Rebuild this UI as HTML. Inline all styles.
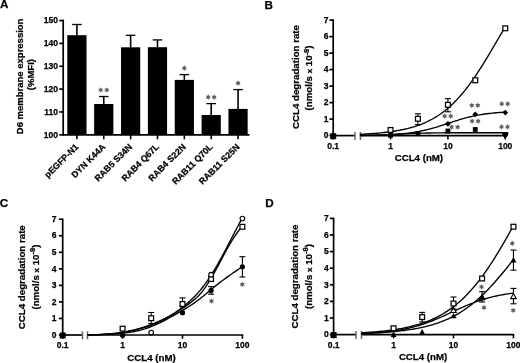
<!DOCTYPE html>
<html><head><meta charset="utf-8"><style>
html,body{margin:0;padding:0;background:#fff;width:520px;height:363px;overflow:hidden}
svg{display:block;font-family:"Liberation Sans", sans-serif;will-change:transform}
text{stroke:#000;stroke-width:0.25px}
</style></head><body>
<svg width="520" height="363" viewBox="0 0 520 363">
<rect width="520" height="363" fill="#fff"/>
<text x="0" y="8.3" font-size="11.7" text-anchor="start" font-weight="bold" fill="#000" >A</text>
<line x1="63.2" y1="19.75" x2="63.2" y2="135.6" stroke="#000" stroke-width="1.7"/>
<line x1="62.4" y1="134.8" x2="249.5" y2="134.8" stroke="#000" stroke-width="1.7"/>
<line x1="59.3" y1="134.8" x2="63.2" y2="134.8" stroke="#000" stroke-width="1.7"/>
<text x="58" y="137.6" font-size="8.5" text-anchor="end" font-weight="bold" fill="#000" >100</text>
<line x1="59.3" y1="111.95" x2="63.2" y2="111.95" stroke="#000" stroke-width="1.7"/>
<text x="58" y="114.75" font-size="8.5" text-anchor="end" font-weight="bold" fill="#000" >110</text>
<line x1="59.3" y1="89.1" x2="63.2" y2="89.1" stroke="#000" stroke-width="1.7"/>
<text x="58" y="91.9" font-size="8.5" text-anchor="end" font-weight="bold" fill="#000" >120</text>
<line x1="59.3" y1="66.25" x2="63.2" y2="66.25" stroke="#000" stroke-width="1.7"/>
<text x="58" y="69.05" font-size="8.5" text-anchor="end" font-weight="bold" fill="#000" >130</text>
<line x1="59.3" y1="43.4" x2="63.2" y2="43.4" stroke="#000" stroke-width="1.7"/>
<text x="58" y="46.2" font-size="8.5" text-anchor="end" font-weight="bold" fill="#000" >140</text>
<line x1="59.3" y1="20.55" x2="63.2" y2="20.55" stroke="#000" stroke-width="1.7"/>
<text x="58" y="23.35" font-size="8.5" text-anchor="end" font-weight="bold" fill="#000" >150</text>
<rect x="67.3" y="35.2" width="19.2" height="99.6" fill="#000"/>
<line x1="76.9" y1="24.5" x2="76.9" y2="35.2" stroke="#000" stroke-width="1.6"/>
<line x1="72.1" y1="24.5" x2="81.7" y2="24.5" stroke="#000" stroke-width="1.3"/>
<line x1="76.9" y1="134.8" x2="76.9" y2="139.3" stroke="#000" stroke-width="1.6"/>
<text x="0" y="0" font-size="8.9" text-anchor="end" font-weight="bold" transform="translate(79.1 147.4) rotate(-45)">pEGFP-N1</text>
<rect x="94.16" y="104" width="19.2" height="30.8" fill="#000"/>
<line x1="103.76" y1="96.5" x2="103.76" y2="104" stroke="#000" stroke-width="1.6"/>
<line x1="98.96" y1="96.5" x2="108.56" y2="96.5" stroke="#000" stroke-width="1.3"/>
<line x1="103.76" y1="134.8" x2="103.76" y2="139.3" stroke="#000" stroke-width="1.6"/>
<text x="0" y="0" font-size="8.9" text-anchor="end" font-weight="bold" transform="translate(105.96 147.4) rotate(-45)">DYN K44A</text>
<polygon points="100.76,87.15 101.54,88.64 103.23,88.58 102.33,90 103.23,91.42 101.54,91.36 100.76,92.85 99.98,91.36 98.29,91.42 99.19,90 98.29,88.58 99.98,88.64" fill="#636363"/>
<polygon points="106.76,87.15 107.54,88.64 109.23,88.58 108.33,90 109.23,91.42 107.54,91.36 106.76,92.85 105.98,91.36 104.29,91.42 105.19,90 104.29,88.58 105.98,88.64" fill="#636363"/>
<rect x="121.02" y="47.3" width="19.2" height="87.5" fill="#000"/>
<line x1="130.62" y1="35.3" x2="130.62" y2="47.3" stroke="#000" stroke-width="1.6"/>
<line x1="125.82" y1="35.3" x2="135.42" y2="35.3" stroke="#000" stroke-width="1.3"/>
<line x1="130.62" y1="134.8" x2="130.62" y2="139.3" stroke="#000" stroke-width="1.6"/>
<text x="0" y="0" font-size="8.9" text-anchor="end" font-weight="bold" transform="translate(132.82 147.4) rotate(-45)">RAB5 S34N</text>
<rect x="147.88" y="47.2" width="19.2" height="87.6" fill="#000"/>
<line x1="157.48" y1="39.9" x2="157.48" y2="47.2" stroke="#000" stroke-width="1.6"/>
<line x1="152.68" y1="39.9" x2="162.28" y2="39.9" stroke="#000" stroke-width="1.3"/>
<line x1="157.48" y1="134.8" x2="157.48" y2="139.3" stroke="#000" stroke-width="1.6"/>
<text x="0" y="0" font-size="8.9" text-anchor="end" font-weight="bold" transform="translate(159.68 147.4) rotate(-45)">RAB4 Q67L</text>
<rect x="174.74" y="79.9" width="19.2" height="54.9" fill="#000"/>
<line x1="184.34" y1="74.6" x2="184.34" y2="79.9" stroke="#000" stroke-width="1.6"/>
<line x1="179.54" y1="74.6" x2="189.14" y2="74.6" stroke="#000" stroke-width="1.3"/>
<line x1="184.34" y1="134.8" x2="184.34" y2="139.3" stroke="#000" stroke-width="1.6"/>
<text x="0" y="0" font-size="8.9" text-anchor="end" font-weight="bold" transform="translate(186.54 147.4) rotate(-45)">RAB4 S22N</text>
<polygon points="184.34,65.25 185.12,66.74 186.81,66.67 185.91,68.1 186.81,69.52 185.12,69.46 184.34,70.95 183.56,69.46 181.87,69.52 182.77,68.1 181.87,66.67 183.56,66.74" fill="#636363"/>
<rect x="201.6" y="115" width="19.2" height="19.8" fill="#000"/>
<line x1="211.2" y1="103.6" x2="211.2" y2="115" stroke="#000" stroke-width="1.6"/>
<line x1="206.4" y1="103.6" x2="216" y2="103.6" stroke="#000" stroke-width="1.3"/>
<line x1="211.2" y1="134.8" x2="211.2" y2="139.3" stroke="#000" stroke-width="1.6"/>
<text x="0" y="0" font-size="8.9" text-anchor="end" font-weight="bold" transform="translate(213.4 147.4) rotate(-45)">RAB11 Q70L</text>
<polygon points="208.2,94.25 208.98,95.74 210.67,95.67 209.77,97.1 210.67,98.52 208.98,98.46 208.2,99.95 207.42,98.46 205.73,98.52 206.63,97.1 205.73,95.67 207.42,95.74" fill="#636363"/>
<polygon points="214.2,94.25 214.98,95.74 216.67,95.67 215.77,97.1 216.67,98.52 214.98,98.46 214.2,99.95 213.42,98.46 211.73,98.52 212.63,97.1 211.73,95.67 213.42,95.74" fill="#636363"/>
<rect x="228.46" y="108.9" width="19.2" height="25.9" fill="#000"/>
<line x1="238.06" y1="89.6" x2="238.06" y2="108.9" stroke="#000" stroke-width="1.6"/>
<line x1="233.26" y1="89.6" x2="242.86" y2="89.6" stroke="#000" stroke-width="1.3"/>
<line x1="238.06" y1="134.8" x2="238.06" y2="139.3" stroke="#000" stroke-width="1.6"/>
<text x="0" y="0" font-size="8.9" text-anchor="end" font-weight="bold" transform="translate(240.26 147.4) rotate(-45)">RAB11 S25N</text>
<polygon points="238.06,80.25 238.84,81.74 240.53,81.67 239.63,83.1 240.53,84.52 238.84,84.46 238.06,85.95 237.28,84.46 235.59,84.52 236.49,83.1 235.59,81.67 237.28,81.74" fill="#636363"/>
<text x="0" y="0" font-size="9.5" font-weight="bold" text-anchor="middle" transform="translate(23.2 76.4) rotate(-90)">D6 membrane expression</text>
<text x="0" y="0" font-size="9.5" font-weight="bold" text-anchor="middle" transform="translate(34.4 74.6) rotate(-90)">(%MFI)</text>
<text x="264.4" y="8.6" font-size="11.7" text-anchor="start" font-weight="bold" fill="#000" >B</text>
<line x1="333.2" y1="19.3" x2="333.2" y2="136.4" stroke="#000" stroke-width="1.7"/>
<line x1="329.4" y1="135.6" x2="333.2" y2="135.6" stroke="#000" stroke-width="1.7"/>
<text x="328.6" y="138.3" font-size="8.5" text-anchor="end" font-weight="bold" fill="#000" >0</text>
<line x1="329.4" y1="119.1" x2="333.2" y2="119.1" stroke="#000" stroke-width="1.7"/>
<text x="328.6" y="121.8" font-size="8.5" text-anchor="end" font-weight="bold" fill="#000" >1</text>
<line x1="329.4" y1="102.6" x2="333.2" y2="102.6" stroke="#000" stroke-width="1.7"/>
<text x="328.6" y="105.3" font-size="8.5" text-anchor="end" font-weight="bold" fill="#000" >2</text>
<line x1="329.4" y1="86.1" x2="333.2" y2="86.1" stroke="#000" stroke-width="1.7"/>
<text x="328.6" y="88.8" font-size="8.5" text-anchor="end" font-weight="bold" fill="#000" >3</text>
<line x1="329.4" y1="69.6" x2="333.2" y2="69.6" stroke="#000" stroke-width="1.7"/>
<text x="328.6" y="72.3" font-size="8.5" text-anchor="end" font-weight="bold" fill="#000" >4</text>
<line x1="329.4" y1="53.1" x2="333.2" y2="53.1" stroke="#000" stroke-width="1.7"/>
<text x="328.6" y="55.8" font-size="8.5" text-anchor="end" font-weight="bold" fill="#000" >5</text>
<line x1="329.4" y1="36.6" x2="333.2" y2="36.6" stroke="#000" stroke-width="1.7"/>
<text x="328.6" y="39.3" font-size="8.5" text-anchor="end" font-weight="bold" fill="#000" >6</text>
<line x1="329.4" y1="20.1" x2="333.2" y2="20.1" stroke="#000" stroke-width="1.7"/>
<text x="328.6" y="22.8" font-size="8.5" text-anchor="end" font-weight="bold" fill="#000" >7</text>
<line x1="332.4" y1="135.6" x2="355" y2="135.6" stroke="#000" stroke-width="1.7"/>
<line x1="360.4" y1="135.6" x2="506.05" y2="135.6" stroke="#000" stroke-width="1.7"/>
<line x1="355" y1="132" x2="355" y2="140" stroke="#666" stroke-width="1.5"/>
<line x1="360.4" y1="132" x2="360.4" y2="140" stroke="#666" stroke-width="1.5"/>
<line x1="333.2" y1="135.6" x2="333.2" y2="139.4" stroke="#000" stroke-width="1.6"/>
<text x="333.2" y="148.8" font-size="8.5" text-anchor="middle" font-weight="bold" fill="#000" >0.1</text>
<line x1="390.55" y1="135.6" x2="390.55" y2="139.4" stroke="#000" stroke-width="1.6"/>
<text x="390.55" y="148.8" font-size="8.5" text-anchor="middle" font-weight="bold" fill="#000" >1</text>
<line x1="447.9" y1="135.6" x2="447.9" y2="139.4" stroke="#000" stroke-width="1.6"/>
<text x="447.9" y="148.8" font-size="8.5" text-anchor="middle" font-weight="bold" fill="#000" >10</text>
<line x1="505.25" y1="135.6" x2="505.25" y2="139.4" stroke="#000" stroke-width="1.6"/>
<text x="505.25" y="148.8" font-size="8.5" text-anchor="middle" font-weight="bold" fill="#000" >100</text>
<text x="418.9" y="160.9" font-size="9.7" text-anchor="middle" font-weight="bold" fill="#000" >CCL4 (nM)</text>
<text x="0" y="0" font-size="9.7" font-weight="bold" text-anchor="middle" transform="translate(298.6 77) rotate(-90)">CCL4 degradation rate</text>
<text x="0" y="0" font-size="9.7" font-weight="bold" text-anchor="middle" transform="translate(312.2 78) rotate(-90)">(nmol/s <tspan font-size="8" >x</tspan> 10<tspan font-size="7.5" dy="-3.6">-8</tspan><tspan dy="3.6">)</tspan></text>
<path d="M360.4,135.6 L360.56,134.29 362.39,134.2 364.23,134.1 366.06,134 367.89,133.89 369.72,133.77 371.55,133.65 373.38,133.51 375.21,133.37 377.05,133.22 378.88,133.06 380.71,132.88 382.54,132.7 384.37,132.5 386.2,132.29 388.04,132.07 389.87,131.83 391.7,131.57 393.53,131.3 395.36,131.01 397.19,130.7 399.02,130.37 400.86,130.02 402.69,129.65 404.52,129.25 406.35,128.83 408.18,128.38 410.01,127.9 411.84,127.39 413.68,126.85 415.51,126.27 417.34,125.66 419.17,125.01 421,124.33 422.83,123.6 424.66,122.82 426.5,122 428.33,121.14 430.16,120.22 431.99,119.25 433.82,118.22 435.65,117.14 437.49,116 439.32,114.8 441.15,113.53 442.98,112.19 444.81,110.79 446.64,109.31 448.47,107.77 450.31,106.15 452.14,104.45 453.97,102.68 455.8,100.83 457.63,98.89 459.46,96.88 461.29,94.79 463.13,92.62 464.96,90.37 466.79,88.03 468.62,85.63 470.45,83.14 472.28,80.58 474.11,77.95 475.95,75.26 477.78,72.49 479.61,69.67 481.44,66.79 483.27,63.86 485.1,60.88 486.94,57.87 488.77,54.82 490.6,51.74 492.43,48.64 494.26,45.53 496.09,42.4 497.92,39.28 499.76,36.17 501.59,33.07 503.42,29.98 505.25,26.93" fill="none" stroke="#000" stroke-width="1.35"/>
<path d="M360.4,135.6 L360.56,135.39 362.39,135.37 364.23,135.34 366.06,135.32 367.89,135.29 369.72,135.26 371.55,135.22 373.38,135.18 375.21,135.14 377.05,135.09 378.88,135.04 380.71,134.98 382.54,134.92 384.37,134.85 386.2,134.78 388.04,134.7 389.87,134.6 391.7,134.51 393.53,134.4 395.36,134.28 397.19,134.15 399.02,134.01 400.86,133.85 402.69,133.68 404.52,133.5 406.35,133.3 408.18,133.09 410.01,132.85 411.84,132.6 413.68,132.33 415.51,132.04 417.34,131.72 419.17,131.39 421,131.03 422.83,130.65 424.66,130.25 426.5,129.82 428.33,129.37 430.16,128.9 431.99,128.4 433.82,127.89 435.65,127.35 437.49,126.8 439.32,126.23 441.15,125.65 442.98,125.06 444.81,124.46 446.64,123.85 448.47,123.25 450.31,122.64 452.14,122.03 453.97,121.44 455.8,120.85 457.63,120.27 459.46,119.71 461.29,119.16 463.13,118.63 464.96,118.12 466.79,117.64 468.62,117.17 470.45,116.73 472.28,116.31 474.11,115.91 475.95,115.54 477.78,115.19 479.61,114.86 481.44,114.56 483.27,114.27 485.1,114.01 486.94,113.76 488.77,113.54 490.6,113.33 492.43,113.13 494.26,112.96 496.09,112.79 497.92,112.64 499.76,112.5 501.59,112.38 503.42,112.26 505.25,112.16" fill="none" stroke="#000" stroke-width="1.35"/>
<path d="M360.4,135.6 L360.56,135.49 362.39,135.47 364.23,135.45 366.06,135.43 367.89,135.41 369.72,135.38 371.55,135.35 373.38,135.31 375.21,135.27 377.05,135.22 378.88,135.17 380.71,135.12 382.54,135.05 384.37,134.98 386.2,134.91 388.04,134.83 389.87,134.74 391.7,134.65 393.53,134.56 395.36,134.46 397.19,134.36 399.02,134.25 400.86,134.14 402.69,134.04 404.52,133.93 406.35,133.83 408.18,133.73 410.01,133.64 411.84,133.55 413.68,133.46 415.51,133.38 417.34,133.31 419.17,133.24 421,133.18 422.83,133.13 424.66,133.08 426.5,133.03 428.33,132.99 430.16,132.96 431.99,132.93 433.82,132.9 435.65,132.88 437.49,132.86 439.32,132.84 441.15,132.82 442.98,132.81 444.81,132.79 446.64,132.78 448.47,132.77 450.31,132.77 452.14,132.76 453.97,132.75 455.8,132.75 457.63,132.74 459.46,132.74 461.29,132.73 463.13,132.73 464.96,132.73 466.79,132.73 468.62,132.72 470.45,132.72 472.28,132.72 474.11,132.72 475.95,132.72 477.78,132.72 479.61,132.72 481.44,132.72 483.27,132.72 485.1,132.72 486.94,132.72 488.77,132.71 490.6,132.71 492.43,132.71 494.26,132.71 496.09,132.71 497.92,132.71 499.76,132.71 501.59,132.71 503.42,132.71 505.25,132.71" fill="none" stroke="#000" stroke-width="1.35"/>
<rect x="330.2" y="133.2" width="6" height="6" fill="#000"/>
<path d="M333.2,132.9 L336.1,135.8 L333.2,138.7 L330.3,135.8Z" fill="#000"/>
<rect x="388.15" y="133" width="4.8" height="4.8" fill="#000"/>
<path d="M390.55,132.5 L393.45,135.4 L390.55,138.3 L387.65,135.4Z" fill="#000"/>
<rect x="415.51" y="131" width="4.8" height="4.8" fill="#000"/>
<rect x="445.5" y="128.6" width="4.8" height="4.8" fill="#000"/>
<rect x="472.86" y="127.1" width="4.8" height="4.8" fill="#000"/>
<path d="M502.25,132 L508.25,132 L508.25,135 L505.25,139 L502.25,135Z" fill="#000"/>
<path d="M447.9,120.9 L450.8,123.8 L447.9,126.7 L445,123.8Z" fill="#000"/>
<path d="M475.26,111.4 L478.16,114.3 L475.26,117.2 L472.36,114.3Z" fill="#000"/>
<path d="M505.25,109.7 L508.15,112.6 L505.25,115.5 L502.35,112.6Z" fill="#000"/>
<rect x="388.15" y="127.6" width="4.8" height="4.8" fill="#fff" stroke="#000" stroke-width="1.25"/>
<line x1="417.91" y1="113.8" x2="417.91" y2="124.6" stroke="#000" stroke-width="1.1"/>
<line x1="414.91" y1="113.8" x2="420.91" y2="113.8" stroke="#000" stroke-width="1.1"/>
<line x1="414.91" y1="124.6" x2="420.91" y2="124.6" stroke="#000" stroke-width="1.1"/>
<rect x="415.51" y="116.4" width="4.8" height="4.8" fill="#fff" stroke="#000" stroke-width="1.25"/>
<line x1="447.9" y1="98.6" x2="447.9" y2="111.8" stroke="#000" stroke-width="1.1"/>
<line x1="444.9" y1="98.6" x2="450.9" y2="98.6" stroke="#000" stroke-width="1.1"/>
<line x1="444.9" y1="111.8" x2="450.9" y2="111.8" stroke="#000" stroke-width="1.1"/>
<rect x="445.5" y="102.4" width="4.8" height="4.8" fill="#fff" stroke="#000" stroke-width="1.25"/>
<rect x="472.86" y="77.9" width="4.8" height="4.8" fill="#fff" stroke="#000" stroke-width="1.25"/>
<rect x="502.85" y="25.9" width="4.8" height="4.8" fill="#fff" stroke="#000" stroke-width="1.25"/>
<polygon points="444.7,113.35 445.48,114.84 447.17,114.78 446.27,116.2 447.17,117.62 445.48,117.56 444.7,119.05 443.92,117.56 442.23,117.62 443.13,116.2 442.23,114.78 443.92,114.84" fill="#636363"/>
<polygon points="450.7,113.35 451.48,114.84 453.17,114.78 452.27,116.2 453.17,117.62 451.48,117.56 450.7,119.05 449.92,117.56 448.23,117.62 449.13,116.2 448.23,114.78 449.92,114.84" fill="#636363"/>
<polygon points="471.8,102.55 472.58,104.04 474.27,103.98 473.37,105.4 474.27,106.83 472.58,106.76 471.8,108.25 471.02,106.76 469.33,106.83 470.23,105.4 469.33,103.98 471.02,104.04" fill="#636363"/>
<polygon points="477.8,102.55 478.58,104.04 480.27,103.98 479.37,105.4 480.27,106.83 478.58,106.76 477.8,108.25 477.02,106.76 475.33,106.83 476.23,105.4 475.33,103.98 477.02,104.04" fill="#636363"/>
<polygon points="501.7,101.05 502.48,102.54 504.17,102.48 503.27,103.9 504.17,105.33 502.48,105.26 501.7,106.75 500.92,105.26 499.23,105.33 500.13,103.9 499.23,102.48 500.92,102.54" fill="#636363"/>
<polygon points="507.7,101.05 508.48,102.54 510.17,102.48 509.27,103.9 510.17,105.33 508.48,105.26 507.7,106.75 506.92,105.26 505.23,105.33 506.13,103.9 505.23,102.48 506.92,102.54" fill="#636363"/>
<polygon points="451.6,124.35 452.38,125.84 454.07,125.78 453.17,127.2 454.07,128.62 452.38,128.56 451.6,130.05 450.82,128.56 449.13,128.62 450.03,127.2 449.13,125.78 450.82,125.84" fill="#636363"/>
<polygon points="457.6,124.35 458.38,125.84 460.07,125.78 459.17,127.2 460.07,128.62 458.38,128.56 457.6,130.05 456.82,128.56 455.13,128.62 456.03,127.2 455.13,125.78 456.82,125.84" fill="#636363"/>
<polygon points="472.1,118.25 472.88,119.74 474.57,119.67 473.67,121.1 474.57,122.52 472.88,122.46 472.1,123.95 471.32,122.46 469.63,122.52 470.53,121.1 469.63,119.67 471.32,119.74" fill="#636363"/>
<polygon points="478.1,118.25 478.88,119.74 480.57,119.67 479.67,121.1 480.57,122.52 478.88,122.46 478.1,123.95 477.32,122.46 475.63,122.52 476.53,121.1 475.63,119.67 477.32,119.74" fill="#636363"/>
<polygon points="501.5,123.95 502.28,125.44 503.97,125.38 503.07,126.8 503.97,128.22 502.28,128.16 501.5,129.65 500.72,128.16 499.03,128.22 499.93,126.8 499.03,125.38 500.72,125.44" fill="#636363"/>
<polygon points="507.5,123.95 508.28,125.44 509.97,125.38 509.07,126.8 509.97,128.22 508.28,128.16 507.5,129.65 506.72,128.16 505.03,128.22 505.93,126.8 505.03,125.38 506.72,125.44" fill="#636363"/>
<text x="-0.2" y="207.3" font-size="11.7" text-anchor="start" font-weight="bold" fill="#000" >C</text>
<line x1="62.7" y1="218.42" x2="62.7" y2="335.8" stroke="#000" stroke-width="1.7"/>
<line x1="58.9" y1="335" x2="62.7" y2="335" stroke="#000" stroke-width="1.7"/>
<text x="56.4" y="337.7" font-size="8.5" text-anchor="end" font-weight="bold" fill="#000" >0</text>
<line x1="58.9" y1="318.46" x2="62.7" y2="318.46" stroke="#000" stroke-width="1.7"/>
<text x="56.4" y="321.16" font-size="8.5" text-anchor="end" font-weight="bold" fill="#000" >1</text>
<line x1="58.9" y1="301.92" x2="62.7" y2="301.92" stroke="#000" stroke-width="1.7"/>
<text x="56.4" y="304.62" font-size="8.5" text-anchor="end" font-weight="bold" fill="#000" >2</text>
<line x1="58.9" y1="285.38" x2="62.7" y2="285.38" stroke="#000" stroke-width="1.7"/>
<text x="56.4" y="288.08" font-size="8.5" text-anchor="end" font-weight="bold" fill="#000" >3</text>
<line x1="58.9" y1="268.84" x2="62.7" y2="268.84" stroke="#000" stroke-width="1.7"/>
<text x="56.4" y="271.54" font-size="8.5" text-anchor="end" font-weight="bold" fill="#000" >4</text>
<line x1="58.9" y1="252.3" x2="62.7" y2="252.3" stroke="#000" stroke-width="1.7"/>
<text x="56.4" y="255" font-size="8.5" text-anchor="end" font-weight="bold" fill="#000" >5</text>
<line x1="58.9" y1="235.76" x2="62.7" y2="235.76" stroke="#000" stroke-width="1.7"/>
<text x="56.4" y="238.46" font-size="8.5" text-anchor="end" font-weight="bold" fill="#000" >6</text>
<line x1="58.9" y1="219.22" x2="62.7" y2="219.22" stroke="#000" stroke-width="1.7"/>
<text x="56.4" y="221.92" font-size="8.5" text-anchor="end" font-weight="bold" fill="#000" >7</text>
<line x1="61.9" y1="335" x2="82.5" y2="335" stroke="#000" stroke-width="1.7"/>
<line x1="87.5" y1="335" x2="243.2" y2="335" stroke="#000" stroke-width="1.7"/>
<line x1="82.5" y1="331.4" x2="82.5" y2="339.4" stroke="#666" stroke-width="1.5"/>
<line x1="87.5" y1="331.4" x2="87.5" y2="339.4" stroke="#666" stroke-width="1.5"/>
<line x1="62.7" y1="335" x2="62.7" y2="338.8" stroke="#000" stroke-width="1.6"/>
<text x="62.7" y="348.2" font-size="8.5" text-anchor="middle" font-weight="bold" fill="#000" >0.1</text>
<line x1="122.6" y1="335" x2="122.6" y2="338.8" stroke="#000" stroke-width="1.6"/>
<text x="122.6" y="348.2" font-size="8.5" text-anchor="middle" font-weight="bold" fill="#000" >1</text>
<line x1="182.5" y1="335" x2="182.5" y2="338.8" stroke="#000" stroke-width="1.6"/>
<text x="182.5" y="348.2" font-size="8.5" text-anchor="middle" font-weight="bold" fill="#000" >10</text>
<line x1="242.4" y1="335" x2="242.4" y2="338.8" stroke="#000" stroke-width="1.6"/>
<text x="242.4" y="348.2" font-size="8.5" text-anchor="middle" font-weight="bold" fill="#000" >100</text>
<text x="151.5" y="360.8" font-size="9.7" text-anchor="middle" font-weight="bold" fill="#000" >CCL4 (nM)</text>
<text x="0" y="0" font-size="9.7" font-weight="bold" text-anchor="middle" transform="translate(25 277.2) rotate(-90)">CCL4 degradation rate</text>
<text x="0" y="0" font-size="9.7" font-weight="bold" text-anchor="middle" transform="translate(38.9 277.1) rotate(-90)">(nmol/s <tspan font-size="8" >x</tspan> 10<tspan font-size="7.5" dy="-3.6">-8</tspan><tspan dy="3.6">)</tspan></text>
<path d="M87.5,334.9 89.24,334.91 90.97,334.91 92.71,334.9 94.44,334.87 96.18,334.83 97.92,334.77 99.65,334.7 101.39,334.62 103.12,334.52 104.86,334.4 106.6,334.27 108.33,334.13 110.07,333.97 111.8,333.79 113.54,333.59 115.28,333.38 117.01,333.15 118.75,332.9 120.48,332.63 122.22,332.35 123.96,332.05 125.69,331.72 127.43,331.38 129.16,331.02 130.9,330.63 132.63,330.23 134.37,329.8 136.11,329.36 137.84,328.89 139.58,328.4 141.31,327.89 143.05,327.35 144.79,326.79 146.52,326.21 148.26,325.6 149.99,324.98 151.73,324.32 153.47,323.64 155.2,322.94 156.94,322.21 158.67,321.46 160.41,320.68 162.15,319.87 163.88,319.03 165.62,318.17 167.35,317.29 169.09,316.37 170.83,315.42 172.56,314.45 174.3,313.45 176.03,312.42 177.77,311.36 179.51,310.27 181.24,309.15 182.98,308 184.71,306.82 186.45,305.61 188.19,304.36 189.92,303.09 191.66,301.78 193.39,300.4 195.13,298.95 196.87,297.38 198.6,295.66 200.34,293.78 202.07,291.71 203.81,289.46 205.54,287.05 207.28,284.47 209.02,281.75 210.75,278.88 212.49,275.9 214.22,272.81 215.96,269.64 217.7,266.42 219.43,263.18 221.17,259.92 222.9,256.68 224.64,253.46 226.38,250.29 228.11,247.19 229.85,244.16 231.58,241.24 233.32,238.44 235.06,235.77 236.79,233.25 238.53,230.91 240.26,228.77 242,226.83" fill="none" stroke="#000" stroke-width="1.35"/>
<path d="M87.5,335 89.24,335 90.97,334.98 92.71,334.9 94.44,334.81 96.18,334.73 97.92,334.64 99.65,334.54 101.39,334.44 103.12,334.33 104.86,334.21 106.6,334.09 108.33,333.95 110.07,333.81 111.8,333.65 113.54,333.48 115.28,333.3 117.01,333.11 118.75,332.9 120.48,332.67 122.22,332.43 123.96,332.17 125.69,331.89 127.43,331.6 129.16,331.28 130.9,330.94 132.63,330.58 134.37,330.2 136.11,329.8 137.84,329.37 139.58,328.91 141.31,328.43 143.05,327.93 144.79,327.39 146.52,326.83 148.26,326.24 149.99,325.61 151.73,324.96 153.47,324.27 155.2,323.55 156.94,322.8 158.67,322.01 160.41,321.19 162.15,320.33 163.88,319.44 165.62,318.5 167.35,317.53 169.09,316.51 170.83,315.46 172.56,314.36 174.3,313.23 176.03,312.04 177.77,310.82 179.51,309.55 181.24,308.23 182.98,306.87 184.71,305.46 186.45,304 188.19,302.49 189.92,300.93 191.66,299.32 193.39,297.65 195.13,295.9 196.87,294.08 198.6,292.16 200.34,290.15 202.07,288.02 203.81,285.79 205.54,283.45 207.28,281 209.02,278.45 210.75,275.8 212.49,273.04 214.22,270.19 215.96,267.25 217.7,264.23 219.43,261.14 221.17,257.98 222.9,254.78 224.64,251.52 226.38,248.23 228.11,244.91 229.85,241.58 231.58,238.23 233.32,234.89 235.06,231.55 236.79,228.23 238.53,224.95 240.26,221.69 242,218.49" fill="none" stroke="#000" stroke-width="1.35"/>
<path d="M87.5,335 89.24,334.98 90.97,334.9 92.71,334.81 94.44,334.74 96.18,334.67 97.92,334.61 99.65,334.55 101.39,334.48 103.12,334.42 104.86,334.36 106.6,334.29 108.33,334.21 110.07,334.13 111.8,334.05 113.54,333.95 115.28,333.84 117.01,333.72 118.75,333.58 120.48,333.43 122.22,333.27 123.96,333.08 125.69,332.88 127.43,332.65 129.16,332.4 130.9,332.13 132.63,331.83 134.37,331.51 136.11,331.15 137.84,330.77 139.58,330.36 141.31,329.91 143.05,329.43 144.79,328.91 146.52,328.35 148.26,327.76 149.99,327.13 151.73,326.45 153.47,325.74 155.2,324.99 156.94,324.21 158.67,323.39 160.41,322.55 162.15,321.68 163.88,320.79 165.62,319.87 167.35,318.94 169.09,317.99 170.83,317.02 172.56,316.05 174.3,315.07 176.03,314.08 177.77,313.09 179.51,312.09 181.24,311.1 182.98,310.11 184.71,309.1 186.45,308.07 188.19,307.01 189.92,305.91 191.66,304.76 193.39,303.57 195.13,302.34 196.87,301.07 198.6,299.76 200.34,298.42 202.07,297.06 203.81,295.67 205.54,294.26 207.28,292.84 209.02,291.4 210.75,289.96 212.49,288.51 214.22,287.07 215.96,285.64 217.7,284.23 219.43,282.86 221.17,281.52 222.9,280.21 224.64,278.93 226.38,277.67 228.11,276.42 229.85,275.2 231.58,273.99 233.32,272.79 235.06,271.59 236.79,270.4 238.53,269.21 240.26,268.01 242,266.81" fill="none" stroke="#000" stroke-width="1.35"/>
<rect x="59.7" y="332.5" width="6" height="6" fill="#000"/>
<circle cx="122.6" cy="335.2" r="2.6" fill="#000"/>
<circle cx="151.18" cy="332.6" r="2.3" fill="#fff" stroke="#000" stroke-width="1.1"/>
<circle cx="182.5" cy="312.7" r="2.6" fill="#000"/>
<line x1="211.08" y1="286.6" x2="211.08" y2="294.2" stroke="#000" stroke-width="1.1"/>
<line x1="208.08" y1="286.6" x2="214.08" y2="286.6" stroke="#000" stroke-width="1.1"/>
<line x1="208.08" y1="294.2" x2="214.08" y2="294.2" stroke="#000" stroke-width="1.1"/>
<circle cx="211.08" cy="290.4" r="2.6" fill="#000"/>
<line x1="242.4" y1="256.7" x2="242.4" y2="277" stroke="#000" stroke-width="1.1"/>
<line x1="239.4" y1="256.7" x2="245.4" y2="256.7" stroke="#000" stroke-width="1.1"/>
<line x1="239.4" y1="277" x2="245.4" y2="277" stroke="#000" stroke-width="1.1"/>
<circle cx="242.4" cy="266.8" r="2.6" fill="#000"/>
<rect x="120.2" y="326.3" width="4.8" height="4.8" fill="#fff" stroke="#000" stroke-width="1.25"/>
<line x1="151.18" y1="312.5" x2="151.18" y2="323.6" stroke="#000" stroke-width="1.1"/>
<line x1="148.18" y1="312.5" x2="154.18" y2="312.5" stroke="#000" stroke-width="1.1"/>
<line x1="148.18" y1="323.6" x2="154.18" y2="323.6" stroke="#000" stroke-width="1.1"/>
<rect x="148.78" y="315.8" width="4.8" height="4.8" fill="#fff" stroke="#000" stroke-width="1.25"/>
<line x1="182.5" y1="297.9" x2="182.5" y2="306.8" stroke="#000" stroke-width="1.1"/>
<line x1="179.5" y1="297.9" x2="185.5" y2="297.9" stroke="#000" stroke-width="1.1"/>
<line x1="179.5" y1="306.8" x2="185.5" y2="306.8" stroke="#000" stroke-width="1.1"/>
<rect x="180.1" y="301.6" width="4.8" height="4.8" fill="#fff" stroke="#000" stroke-width="1.25"/>
<rect x="208.68" y="276.6" width="4.8" height="4.8" fill="#fff" stroke="#000" stroke-width="1.25"/>
<rect x="240" y="224.4" width="4.8" height="4.8" fill="#fff" stroke="#000" stroke-width="1.25"/>
<circle cx="211.08" cy="274.7" r="2.3" fill="#fff" stroke="#000" stroke-width="1.1"/>
<circle cx="242.4" cy="218.5" r="2.3" fill="#fff" stroke="#000" stroke-width="1.1"/>
<polygon points="211.5,298.35 212.28,299.84 213.97,299.77 213.07,301.2 213.97,302.62 212.28,302.56 211.5,304.05 210.72,302.56 209.03,302.62 209.93,301.2 209.03,299.77 210.72,299.84" fill="#636363"/>
<polygon points="242.3,281.45 243.08,282.94 244.77,282.88 243.87,284.3 244.77,285.73 243.08,285.66 242.3,287.15 241.52,285.66 239.83,285.73 240.73,284.3 239.83,282.88 241.52,282.94" fill="#636363"/>
<text x="265.2" y="207.4" font-size="11.7" text-anchor="start" font-weight="bold" fill="#000" >D</text>
<line x1="333.6" y1="217.6" x2="333.6" y2="335.4" stroke="#000" stroke-width="1.7"/>
<line x1="329.8" y1="334.6" x2="333.6" y2="334.6" stroke="#000" stroke-width="1.7"/>
<text x="328.8" y="337.3" font-size="8.5" text-anchor="end" font-weight="bold" fill="#000" >0</text>
<line x1="329.8" y1="318" x2="333.6" y2="318" stroke="#000" stroke-width="1.7"/>
<text x="328.8" y="320.7" font-size="8.5" text-anchor="end" font-weight="bold" fill="#000" >1</text>
<line x1="329.8" y1="301.4" x2="333.6" y2="301.4" stroke="#000" stroke-width="1.7"/>
<text x="328.8" y="304.1" font-size="8.5" text-anchor="end" font-weight="bold" fill="#000" >2</text>
<line x1="329.8" y1="284.8" x2="333.6" y2="284.8" stroke="#000" stroke-width="1.7"/>
<text x="328.8" y="287.5" font-size="8.5" text-anchor="end" font-weight="bold" fill="#000" >3</text>
<line x1="329.8" y1="268.2" x2="333.6" y2="268.2" stroke="#000" stroke-width="1.7"/>
<text x="328.8" y="270.9" font-size="8.5" text-anchor="end" font-weight="bold" fill="#000" >4</text>
<line x1="329.8" y1="251.6" x2="333.6" y2="251.6" stroke="#000" stroke-width="1.7"/>
<text x="328.8" y="254.3" font-size="8.5" text-anchor="end" font-weight="bold" fill="#000" >5</text>
<line x1="329.8" y1="235" x2="333.6" y2="235" stroke="#000" stroke-width="1.7"/>
<text x="328.8" y="237.7" font-size="8.5" text-anchor="end" font-weight="bold" fill="#000" >6</text>
<line x1="329.8" y1="218.4" x2="333.6" y2="218.4" stroke="#000" stroke-width="1.7"/>
<text x="328.8" y="221.1" font-size="8.5" text-anchor="end" font-weight="bold" fill="#000" >7</text>
<line x1="332.8" y1="334.6" x2="356" y2="334.6" stroke="#000" stroke-width="1.7"/>
<line x1="361.5" y1="334.6" x2="514.25" y2="334.6" stroke="#000" stroke-width="1.7"/>
<line x1="356" y1="331" x2="356" y2="339" stroke="#666" stroke-width="1.5"/>
<line x1="361.5" y1="331" x2="361.5" y2="339" stroke="#666" stroke-width="1.5"/>
<line x1="333.6" y1="334.6" x2="333.6" y2="338.4" stroke="#000" stroke-width="1.6"/>
<text x="333.6" y="347.8" font-size="8.5" text-anchor="middle" font-weight="bold" fill="#000" >0.1</text>
<line x1="393.55" y1="334.6" x2="393.55" y2="338.4" stroke="#000" stroke-width="1.6"/>
<text x="393.55" y="347.8" font-size="8.5" text-anchor="middle" font-weight="bold" fill="#000" >1</text>
<line x1="453.5" y1="334.6" x2="453.5" y2="338.4" stroke="#000" stroke-width="1.6"/>
<text x="453.5" y="347.8" font-size="8.5" text-anchor="middle" font-weight="bold" fill="#000" >10</text>
<line x1="513.45" y1="334.6" x2="513.45" y2="338.4" stroke="#000" stroke-width="1.6"/>
<text x="513.45" y="347.8" font-size="8.5" text-anchor="middle" font-weight="bold" fill="#000" >100</text>
<text x="423.1" y="359.6" font-size="9.7" text-anchor="middle" font-weight="bold" fill="#000" >CCL4 (nM)</text>
<text x="0" y="0" font-size="9.7" font-weight="bold" text-anchor="middle" transform="translate(297.7 276.5) rotate(-90)">CCL4 degradation rate</text>
<text x="0" y="0" font-size="9.7" font-weight="bold" text-anchor="middle" transform="translate(311.6 276.6) rotate(-90)">(nmol/s <tspan font-size="8" >x</tspan> 10<tspan font-size="7.5" dy="-3.6">-8</tspan><tspan dy="3.6">)</tspan></text>
<path d="M361.5,334.6 L362.2,332.76 364.12,332.65 366.03,332.53 367.95,332.4 369.86,332.27 371.78,332.13 373.69,331.98 375.61,331.82 377.52,331.65 379.43,331.47 381.35,331.28 383.26,331.08 385.18,330.87 387.09,330.65 389.01,330.41 390.92,330.15 392.84,329.89 394.75,329.6 396.66,329.3 398.58,328.99 400.49,328.65 402.41,328.3 404.32,327.92 406.24,327.52 408.15,327.1 410.07,326.66 411.98,326.19 413.9,325.69 415.81,325.17 417.72,324.61 419.64,324.03 421.55,323.41 423.47,322.76 425.38,322.07 427.3,321.35 429.21,320.58 431.13,319.78 433.04,318.93 434.95,318.04 436.87,317.1 438.78,316.11 440.7,315.07 442.61,313.97 444.53,312.83 446.44,311.62 448.36,310.36 450.27,309.04 452.19,307.65 454.1,306.2 456.01,304.68 457.93,303.09 459.84,301.43 461.76,299.7 463.67,297.9 465.59,296.02 467.5,294.06 469.42,292.03 471.33,289.92 473.25,287.73 475.16,285.46 477.07,283.11 478.99,280.69 480.9,278.18 482.82,275.6 484.73,272.93 486.65,270.2 488.56,267.39 490.48,264.5 492.39,261.55 494.3,258.54 496.22,255.46 498.13,252.32 500.05,249.12 501.96,245.88 503.88,242.59 505.79,239.25 507.71,235.89 509.62,232.49 511.54,229.06 513.45,225.62" fill="none" stroke="#000" stroke-width="1.35"/>
<path d="M361.5,334.6 L362.2,333.52 364.12,333.45 366.03,333.37 367.95,333.3 369.86,333.21 371.78,333.13 373.69,333.03 375.61,332.93 377.52,332.83 379.43,332.72 381.35,332.6 383.26,332.47 385.18,332.34 387.09,332.2 389.01,332.05 390.92,331.89 392.84,331.72 394.75,331.54 396.66,331.35 398.58,331.15 400.49,330.93 402.41,330.7 404.32,330.46 406.24,330.2 408.15,329.93 410.07,329.65 411.98,329.34 413.9,329.02 415.81,328.67 417.72,328.31 419.64,327.93 421.55,327.52 423.47,327.09 425.38,326.64 427.3,326.16 429.21,325.65 431.13,325.12 433.04,324.55 434.95,323.95 436.87,323.32 438.78,322.66 440.7,321.96 442.61,321.22 444.53,320.45 446.44,319.63 448.36,318.77 450.27,317.87 452.19,316.93 454.1,315.93 456.01,314.89 457.93,313.8 459.84,312.66 461.76,311.47 463.67,310.23 465.59,308.93 467.5,307.57 469.42,306.16 471.33,304.69 473.25,303.17 475.16,301.59 477.07,299.95 478.99,298.25 480.9,296.5 482.82,294.68 484.73,292.82 486.65,290.9 488.56,288.92 490.48,286.89 492.39,284.81 494.3,282.69 496.22,280.52 498.13,278.31 500.05,276.06 501.96,273.77 503.88,271.45 505.79,269.1 507.71,266.73 509.62,264.34 511.54,261.93 513.45,259.51" fill="none" stroke="#000" stroke-width="1.35"/>
<path d="M361.5,334.6 L362.2,333.56 364.12,333.47 366.03,333.38 367.95,333.28 369.86,333.18 371.78,333.06 373.69,332.94 375.61,332.8 377.52,332.66 379.43,332.51 381.35,332.34 383.26,332.16 385.18,331.97 387.09,331.77 389.01,331.55 390.92,331.31 392.84,331.06 394.75,330.79 396.66,330.5 398.58,330.2 400.49,329.87 402.41,329.52 404.32,329.15 406.24,328.75 408.15,328.33 410.07,327.89 411.98,327.42 413.9,326.93 415.81,326.41 417.72,325.86 419.64,325.28 421.55,324.68 423.47,324.05 425.38,323.39 427.3,322.7 429.21,321.99 431.13,321.26 433.04,320.5 434.95,319.72 436.87,318.91 438.78,318.09 440.7,317.25 442.61,316.39 444.53,315.53 446.44,314.65 448.36,313.76 450.27,312.88 452.19,311.98 454.1,311.09 456.01,310.21 457.93,309.33 459.84,308.46 461.76,307.6 463.67,306.76 465.59,305.93 467.5,305.12 469.42,304.33 471.33,303.57 473.25,302.82 475.16,302.11 477.07,301.41 478.99,300.75 480.9,300.11 482.82,299.5 484.73,298.92 486.65,298.36 488.56,297.83 490.48,297.33 492.39,296.86 494.3,296.41 496.22,295.98 498.13,295.58 500.05,295.2 501.96,294.85 503.88,294.52 505.79,294.2 507.71,293.91 509.62,293.64 511.54,293.38 513.45,293.14" fill="none" stroke="#000" stroke-width="1.35"/>
<rect x="330.6" y="332" width="6" height="6" fill="#000"/>
<path d="M333.6,332.5 L336.6,337.9 L330.6,337.9Z" fill="#000"/>
<path d="M393.55,331.5 L396.55,336.9 L390.55,336.9Z" fill="#000"/>
<path d="M422.15,329 L425.15,334.4 L419.15,334.4Z" fill="#000"/>
<path d="M453.5,307.5 L456.3,312.54 L450.7,312.54Z" fill="#fff" stroke="#000" stroke-width="1.1"/>
<path d="M453.5,312.9 L456.5,318.3 L450.5,318.3Z" fill="#000"/>
<path d="M482.1,294.7 L484.9,299.74 L479.3,299.74Z" fill="#fff" stroke="#000" stroke-width="1.1"/>
<line x1="482.1" y1="291.7" x2="482.1" y2="302" stroke="#000" stroke-width="1.1"/>
<line x1="479.1" y1="291.7" x2="485.1" y2="291.7" stroke="#000" stroke-width="1.1"/>
<line x1="479.1" y1="302" x2="485.1" y2="302" stroke="#000" stroke-width="1.1"/>
<path d="M482.1,294.2 L485.1,299.6 L479.1,299.6Z" fill="#000"/>
<line x1="513.45" y1="288.4" x2="513.45" y2="303.8" stroke="#000" stroke-width="1.1"/>
<line x1="510.45" y1="288.4" x2="516.45" y2="288.4" stroke="#000" stroke-width="1.1"/>
<line x1="510.45" y1="303.8" x2="516.45" y2="303.8" stroke="#000" stroke-width="1.1"/>
<path d="M513.45,293.6 L516.25,298.64 L510.65,298.64Z" fill="#fff" stroke="#000" stroke-width="1.1"/>
<line x1="513.45" y1="250.1" x2="513.45" y2="270.2" stroke="#000" stroke-width="1.1"/>
<line x1="510.45" y1="250.1" x2="516.45" y2="250.1" stroke="#000" stroke-width="1.1"/>
<line x1="510.45" y1="270.2" x2="516.45" y2="270.2" stroke="#000" stroke-width="1.1"/>
<path d="M513.45,257 L516.45,262.4 L510.45,262.4Z" fill="#000"/>
<rect x="391.15" y="325.9" width="4.8" height="4.8" fill="#fff" stroke="#000" stroke-width="1.25"/>
<line x1="422.15" y1="312.4" x2="422.15" y2="322" stroke="#000" stroke-width="1.1"/>
<line x1="419.15" y1="312.4" x2="425.15" y2="312.4" stroke="#000" stroke-width="1.1"/>
<line x1="419.15" y1="322" x2="425.15" y2="322" stroke="#000" stroke-width="1.1"/>
<rect x="419.75" y="314.7" width="4.8" height="4.8" fill="#fff" stroke="#000" stroke-width="1.25"/>
<line x1="453.5" y1="297" x2="453.5" y2="309" stroke="#000" stroke-width="1.1"/>
<line x1="450.5" y1="297" x2="456.5" y2="297" stroke="#000" stroke-width="1.1"/>
<line x1="450.5" y1="309" x2="456.5" y2="309" stroke="#000" stroke-width="1.1"/>
<rect x="451.1" y="301.1" width="4.8" height="4.8" fill="#fff" stroke="#000" stroke-width="1.25"/>
<rect x="479.7" y="276.1" width="4.8" height="4.8" fill="#fff" stroke="#000" stroke-width="1.25"/>
<rect x="511.05" y="224.3" width="4.8" height="4.8" fill="#fff" stroke="#000" stroke-width="1.25"/>
<polygon points="481.5,283.95 482.28,285.44 483.97,285.38 483.07,286.8 483.97,288.23 482.28,288.16 481.5,289.65 480.72,288.16 479.03,288.23 479.93,286.8 479.03,285.38 480.72,285.44" fill="#636363"/>
<polygon points="484,304.75 484.78,306.24 486.47,306.18 485.57,307.6 486.47,309.03 484.78,308.96 484,310.45 483.22,308.96 481.53,309.03 482.43,307.6 481.53,306.18 483.22,306.24" fill="#636363"/>
<polygon points="512.3,240.45 513.08,241.94 514.77,241.88 513.87,243.3 514.77,244.73 513.08,244.66 512.3,246.15 511.52,244.66 509.83,244.73 510.73,243.3 509.83,241.88 511.52,241.94" fill="#636363"/>
<polygon points="513.2,307.55 513.98,309.04 515.67,308.97 514.77,310.4 515.67,311.82 513.98,311.76 513.2,313.25 512.42,311.76 510.73,311.82 511.63,310.4 510.73,308.97 512.42,309.04" fill="#636363"/>
</svg>
</body></html>
